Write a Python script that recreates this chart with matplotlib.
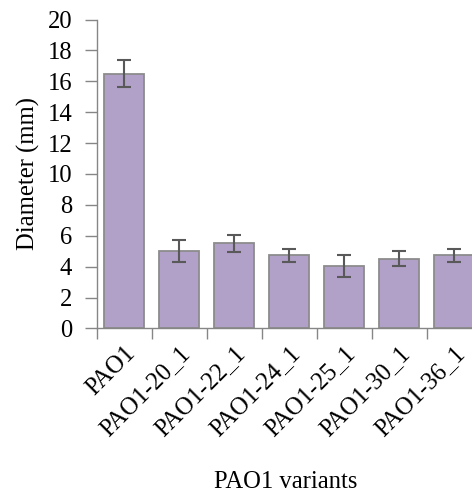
import matplotlib
matplotlib.use("Agg")
import matplotlib.pyplot as plt
import numpy as np

categories = ["PAO1", "PAO1-20_1", "PAO1-22_1", "PAO1-24_1", "PAO1-25_1", "PAO1-30_1", "PAO1-36_1"]
diameters = [16.5, 5.0, 5.5, 4.75, 4.03, 4.52, 4.75]
errors = [0.85, 0.72, 0.53, 0.42, 0.71, 0.48, 0.42]
yticks = [0, 2, 4, 6, 8, 10, 12, 14, 16, 18, 20]

plt.rcParams['font.family'] = ['Liberation Serif', 'DejaVu Serif']
FS = 17.7

fig = plt.figure(figsize=(4.72, 4.95), dpi=100)
ax = fig.add_axes([96.5/472, 1 - 328.4/495, (481.5-96.5)/472, (328.4-19.5)/495])

x = np.arange(len(categories))
ax.bar(x, diameters, width=0.73, color="#b1a0c7", edgecolor="#8c8c8c", linewidth=1.3, zorder=2)
ax.errorbar(x, diameters, yerr=errors, fmt="none", ecolor="#595959", elinewidth=1.5,
            capsize=5, capthick=1.5, zorder=3)

ax.set_xlim(-0.5, len(categories) - 0.5)
ax.set_ylim(0, 20)
ax.set_yticks(yticks)
ax.set_yticklabels([str(v) for v in yticks], fontsize=FS)
ax.set_xticks(x)
ax.set_xticklabels(categories, rotation=45, ha="right", rotation_mode="anchor", fontsize=FS)
ax.set_xticks(np.arange(-0.5, len(categories), 1.0), minor=True)
ax.tick_params(axis="x", which="major", length=0, pad=10)
ax.tick_params(axis="x", which="minor", length=8, width=1, color="#868686")
ax.tick_params(axis="y", length=8.5, width=1, color="#868686", pad=9)

for s in ["top", "right"]:
    ax.spines[s].set_visible(False)
for s in ["left", "bottom"]:
    ax.spines[s].set_color("#868686")
    ax.spines[s].set_linewidth(1)

ax.set_ylabel("Diameter (mm)", fontsize=FS, labelpad=5)
fig.text(286/472, 1 - 482/495, "PAO1 variants", ha="center", va="center", fontsize=FS)

fig.savefig("out.png", dpi=100)
